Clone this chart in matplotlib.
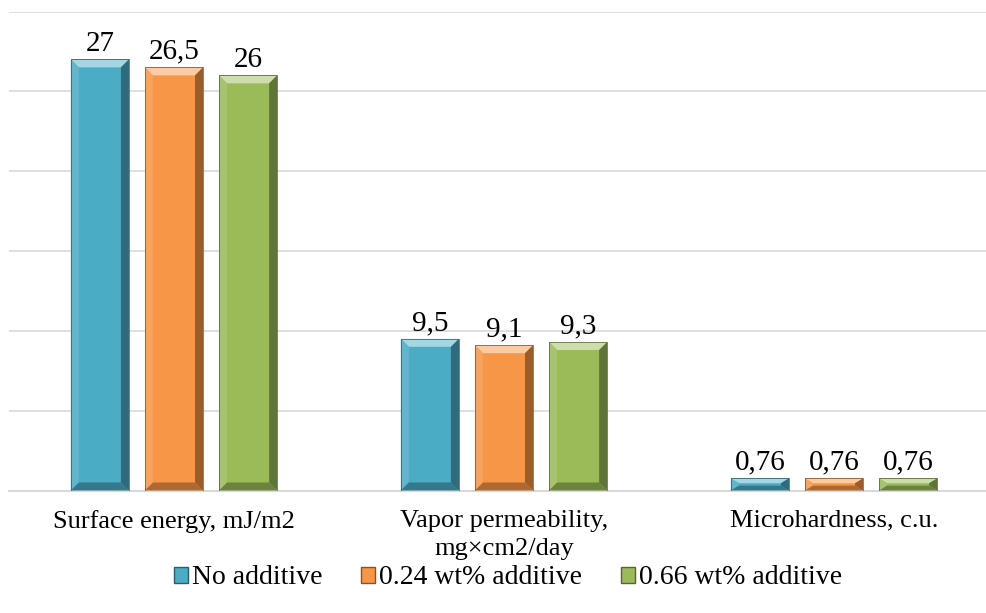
import matplotlib.pyplot as plt
import matplotlib.colors as mcolors
from matplotlib.patches import Polygon, Patch
import numpy as np

categories = ["Surface energy, mJ/m2", "Vapor permeability,\nmg×cm2/day", "Microhardness, c.u."]
series = ["No additive", "0.24 wt% additive", "0.66 wt% additive"]
no_additive = [27, 9.5, 0.76]
add_024 = [26.5, 9.1, 0.76]
add_066 = [26, 9.3, 0.76]
colors = ["#4BACC6", "#F79646", "#9BBB59"]

plt.rcParams['font.family'] = ['Liberation Serif', 'DejaVu Serif']

fig = plt.figure(figsize=(9.87, 6.13), dpi=100)
ax = fig.add_axes([9 / 987, 122.5 / 613, 990 / 987, 479 / 613])
ax.set_xlim(-0.5, 2.5)
ax.set_ylim(0, 30)


def shade(c, amt):
    # amt > 0 mixes toward white, amt < 0 toward black
    rgb = np.array(mcolors.to_rgb(c))
    if amt > 0:
        return tuple(rgb + (1 - rgb) * amt)
    return tuple(rgb * (1 + amt))


def bevel(ax, x0, w, h, c):
    x1 = x0 + w
    bx = 8 / 329.5
    by = min(8 / 15.97, h * 0.4)
    faces = [
        ([(x0, h), (x1, h), (x1 - bx, h - by), (x0 + bx, h - by)], shade(c, 0.5)),
        ([(x0, 0), (x0, h), (x0 + bx, h - by), (x0 + bx, by)], shade(c, 0.12)),
        ([(x1, 0), (x1, h), (x1 - bx, h - by), (x1 - bx, by)], shade(c, -0.38)),
        ([(x0, 0), (x1, 0), (x1 - bx, by), (x0 + bx, by)], shade(c, -0.3)),
    ]
    for pts, fc in faces:
        ax.add_patch(Polygon(pts, closed=True, facecolor=fc, edgecolor='none', zorder=3))
    ax.add_patch(Polygon([(x0, 0), (x0, h), (x1, h), (x1, 0)], closed=True, fill=False,
                         edgecolor=shade(c, -0.5), linewidth=0.5, zorder=4))


x = np.arange(len(categories))
bw = 58 / 329.5
step = 74 / 329.5
for i, (vals, c) in enumerate(zip([no_additive, add_024, add_066], colors)):
    xs = x + (i - 1) * step
    bars = ax.bar(xs, vals, width=bw, color=c, edgecolor='none', zorder=2)
    for b, v in zip(bars, vals):
        bevel(ax, b.get_x(), b.get_width(), v, c)
        ax.annotate(f"{v:g}".replace('.', ','), (b.get_x() + b.get_width() / 2, v),
                    xytext=(0, 2), textcoords='offset points', ha='center', va='bottom',
                    fontsize=21, color='black')

ax.set_yticks(np.arange(0, 31, 5))
ax.yaxis.grid(True, color='#d9d9d9', linewidth=1.2)
ax.set_axisbelow(True)
ax.tick_params(axis='y', left=False, labelleft=False)
ax.set_xticks(x)
ax.set_xticklabels(categories, fontsize=19, multialignment='center', linespacing=1.33)
ax.tick_params(axis='x', length=0, pad=14)
for s in ['top', 'right', 'left']:
    ax.spines[s].set_visible(False)
ax.spines['bottom'].set_color('#d9d9d9')
ax.spines['bottom'].set_linewidth(1.5)

handles = [Patch(facecolor=c, edgecolor=shade(c, -0.45), linewidth=1) for c in colors]
fig.legend(handles, series, loc='center', bbox_to_anchor=(508 / 987, 1 - 578 / 613),
           ncol=3, frameon=False, fontsize=20, handlelength=0.5, handleheight=0.5,
           handletextpad=0.15, columnspacing=1.4)

fig.savefig('out.png', dpi=100)
